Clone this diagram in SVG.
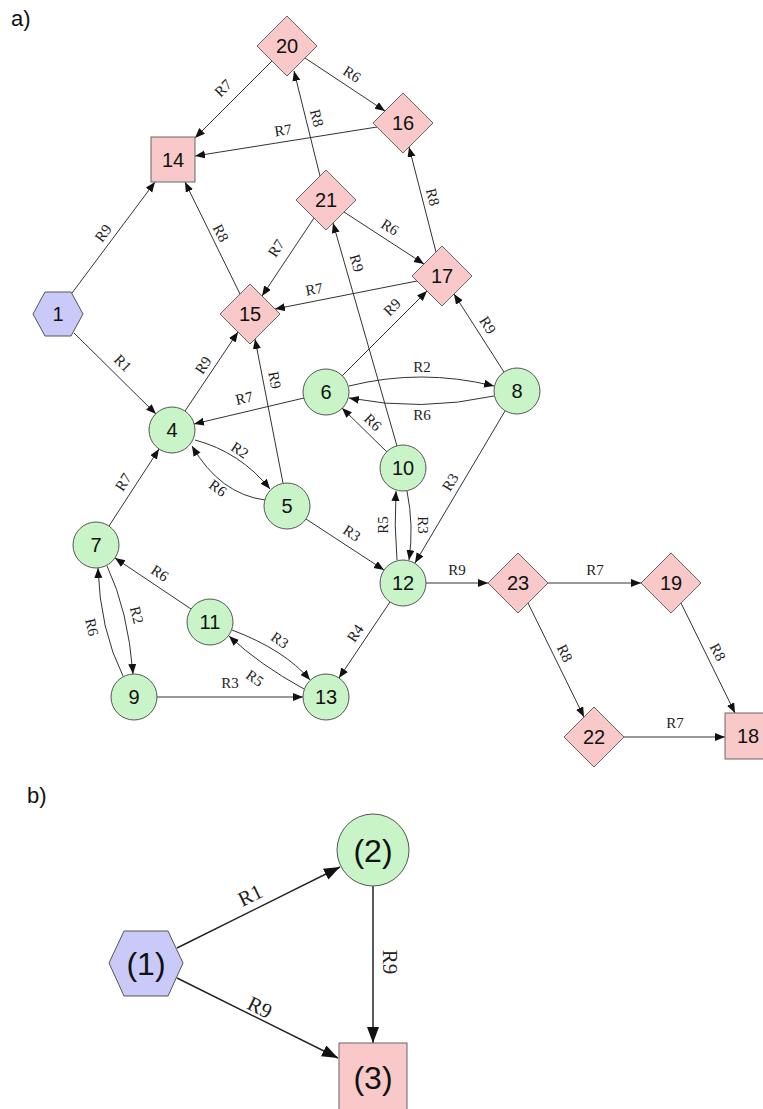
<svg xmlns="http://www.w3.org/2000/svg" width="763" height="1109" viewBox="0 0 763 1109">
<style>
.pink{fill:#F9C9C9;stroke:#666;stroke-width:1}
.green{fill:#C8F4C8;stroke:#555;stroke-width:1}
.blue{fill:#CACAF9;stroke:#555;stroke-width:1}
.nl{font-family:"Liberation Sans",Arial,sans-serif;font-size:20px;fill:#111;text-anchor:middle}
.nb{font-family:"Liberation Sans",Arial,sans-serif;font-size:32px;fill:#111;text-anchor:middle}
.e{fill:none;stroke:#333;stroke-width:1;marker-end:url(#ah)}
.eb{fill:none;stroke:#222;stroke-width:1.5;marker-end:url(#ahb)}
.el{font-family:"Liberation Serif","Times New Roman",serif;font-size:15px;fill:#222;text-anchor:middle}
.elb{font-family:"Liberation Serif","Times New Roman",serif;font-size:21px;fill:#222;text-anchor:middle}
.cap{font-family:"Liberation Sans",Arial,sans-serif;font-size:22px;fill:#111}
</style>
<defs>
<marker id="ah" markerUnits="userSpaceOnUse" markerWidth="11" markerHeight="9" refX="10" refY="4" orient="auto"><path d="M0,0 L10,4 L0,8 z" fill="#111"/></marker>
<marker id="ahb" markerUnits="userSpaceOnUse" markerWidth="17" markerHeight="13" refX="16" refY="6" orient="auto"><path d="M0,0 L16,6 L0,12 z" fill="#111"/></marker>
</defs>
<rect width="763" height="1109" fill="#fff"/>
<text class="cap" x="11" y="26">a)</text>
<text class="cap" x="27" y="803">b)</text>

<g id="connectors">
<line class="e" x1="272" y1="61" x2="195" y2="138"/>
<line class="e" x1="305" y1="58" x2="385" y2="111"/>
<line class="e" x1="377" y1="127" x2="195" y2="156"/>
<line class="e" x1="320" y1="176" x2="294" y2="71"/>
<line class="e" x1="72" y1="293" x2="155" y2="182"/>
<line class="e" x1="240" y1="294" x2="185" y2="182"/>
<line class="e" x1="314" y1="218" x2="262" y2="296"/>
<line class="e" x1="344" y1="212" x2="424" y2="264"/>
<line class="e" x1="436" y1="252" x2="409" y2="147"/>
<line class="e" x1="417" y1="281" x2="275" y2="309"/>
<line class="e" x1="397" y1="446" x2="333" y2="223"/>
<line class="e" x1="342" y1="376" x2="427" y2="291"/>
<line class="e" x1="504" y1="372" x2="454" y2="294"/>
<line class="e" x1="74" y1="333" x2="156" y2="414"/>
<line class="e" x1="185" y1="411" x2="238" y2="332"/>
<line class="e" x1="283" y1="483" x2="255" y2="339"/>
<line class="e" x1="304" y1="398" x2="194" y2="424"/>
<path class="e" d="M349,386 Q421,368 494,386"/>
<path class="e" d="M494,396 Q421,412 349,398"/>
<line class="e" x1="387" y1="452" x2="342" y2="408"/>
<path class="e" d="M195,440 Q240,452 270,489"/>
<path class="e" d="M265,500 Q220,494 192,446"/>
<line class="e" x1="505" y1="411" x2="415" y2="563"/>
<line class="e" x1="306" y1="519" x2="384" y2="570"/>
<path class="e" d="M397,560 Q394,526 396,491"/>
<path class="e" d="M407,491 Q414,526 409,560"/>
<line class="e" x1="109" y1="526" x2="159" y2="449"/>
<line class="e" x1="191" y1="609" x2="115" y2="558"/>
<path class="e" d="M107,566 Q128,610 133,674"/>
<path class="e" d="M123,676 Q100,630 98,568"/>
<path class="e" d="M232,630 Q285,650 310,680"/>
<path class="e" d="M304,689 Q260,665 229,636"/>
<line class="e" x1="157" y1="697" x2="303" y2="697"/>
<line class="e" x1="390" y1="602" x2="339" y2="678"/>
<line class="e" x1="426" y1="583" x2="488" y2="583"/>
<line class="e" x1="548" y1="583" x2="641" y2="583"/>
<line class="e" x1="528" y1="603" x2="584" y2="717"/>
<line class="e" x1="681" y1="603" x2="735" y2="713"/>
<line class="e" x1="624" y1="737" x2="725" y2="737"/>
<line class="eb" x1="177" y1="948" x2="340" y2="867"/>
<line class="eb" x1="177" y1="978" x2="338" y2="1058"/>
<line class="eb" x1="373" y1="886" x2="373" y2="1043"/>

<text class="el" dy="0.35em" transform="translate(223,88) rotate(-45)">R7</text>
<text class="el" dy="0.35em" transform="translate(352,74) rotate(33.6)">R6</text>
<text class="el" dy="0.35em" transform="translate(283,130) rotate(-9)">R7</text>
<text class="el" dy="0.35em" transform="translate(317,118) rotate(76)">R8</text>
<text class="el" dy="0.35em" transform="translate(103,233) rotate(-53)">R9</text>
<text class="el" dy="0.35em" transform="translate(221,233) rotate(63)">R8</text>
<text class="el" dy="0.35em" transform="translate(276,248) rotate(-56)">R7</text>
<text class="el" dy="0.35em" transform="translate(390,227) rotate(33)">R6</text>
<text class="el" dy="0.35em" transform="translate(433,197) rotate(76)">R8</text>
<text class="el" dy="0.35em" transform="translate(314,289) rotate(-11)">R7</text>
<text class="el" dy="0.35em" transform="translate(357,263) rotate(74)">R9</text>
<text class="el" dy="0.35em" transform="translate(392,307) rotate(-45)">R9</text>
<text class="el" dy="0.35em" transform="translate(488,325) rotate(57)">R9</text>
<text class="el" dy="0.35em" transform="translate(123,363) rotate(45)">R1</text>
<text class="el" dy="0.35em" transform="translate(203,365) rotate(-56)">R9</text>
<text class="el" dy="0.35em" transform="translate(275,380) rotate(79)">R9</text>
<text class="el" dy="0.35em" transform="translate(244,398) rotate(-13)">R7</text>
<text class="el" dy="0.35em" transform="translate(422,367)">R2</text>
<text class="el" dy="0.35em" transform="translate(422,415)">R6</text>
<text class="el" dy="0.35em" transform="translate(373,422) rotate(44)">R6</text>
<text class="el" dy="0.35em" transform="translate(240,450) rotate(34)">R2</text>
<text class="el" dy="0.35em" transform="translate(218,488) rotate(36)">R6</text>
<text class="el" dy="0.35em" transform="translate(450,482) rotate(-59)">R3</text>
<text class="el" dy="0.35em" transform="translate(352,533) rotate(34)">R3</text>
<text class="el" dy="0.35em" transform="translate(383,525) rotate(-90)">R5</text>
<text class="el" dy="0.35em" transform="translate(423,525) rotate(90)">R3</text>
<text class="el" dy="0.35em" transform="translate(123,482) rotate(-57)">R7</text>
<text class="el" dy="0.35em" transform="translate(160,573) rotate(34)">R6</text>
<text class="el" dy="0.35em" transform="translate(137,615) rotate(76)">R2</text>
<text class="el" dy="0.35em" transform="translate(92,627) rotate(77)">R6</text>
<text class="el" dy="0.35em" transform="translate(280,640) rotate(35)">R3</text>
<text class="el" dy="0.35em" transform="translate(255,678) rotate(35)">R5</text>
<text class="el" dy="0.35em" transform="translate(230,683)">R3</text>
<text class="el" dy="0.35em" transform="translate(355,633) rotate(-56)">R4</text>
<text class="el" dy="0.35em" transform="translate(457,570)">R9</text>
<text class="el" dy="0.35em" transform="translate(595,570)">R7</text>
<text class="el" dy="0.35em" transform="translate(565,653) rotate(64)">R8</text>
<text class="el" dy="0.35em" transform="translate(718,652) rotate(63)">R8</text>
<text class="el" dy="0.35em" transform="translate(675,723)">R7</text>
<text class="elb" dy="0.35em" transform="translate(250,895) rotate(-26)">R1</text>
<text class="elb" dy="0.35em" transform="translate(260,1007) rotate(26)">R9</text>
<text class="elb" dy="0.35em" transform="translate(390,962) rotate(90)">R9</text>
</g>

<g id="n20"><polygon class="pink" points="287,16 317,46 287,76 257,46"/><text class="nl" x="287" y="53">20</text></g>
<g id="n16"><polygon class="pink" points="403,93 433,123 403,153 373,123"/><text class="nl" x="403" y="130">16</text></g>
<g id="n14"><rect class="pink" x="151" y="137" width="44" height="45"/><text class="nl" x="173" y="167">14</text></g>
<g id="n21"><polygon class="pink" points="326,170 356,200 326,230 296,200"/><text class="nl" x="326" y="207">21</text></g>
<g id="n17"><polygon class="pink" points="442,246 472,276 442,306 412,276"/><text class="nl" x="442" y="283">17</text></g>
<g id="n15"><polygon class="pink" points="250,284 280,314 250,344 220,314"/><text class="nl" x="250" y="321">15</text></g>
<g id="n1"><polygon class="blue" points="33,314 45,292 71,292 83,314 71,336 45,336"/><text class="nl" x="58" y="321">1</text></g>
<g id="n4"><circle class="green" cx="172" cy="430" r="23"/><text class="nl" x="172" y="437">4</text></g>
<g id="n6"><circle class="green" cx="326" cy="392" r="23"/><text class="nl" x="326" y="399">6</text></g>
<g id="n8"><circle class="green" cx="517" cy="391" r="23"/><text class="nl" x="517" y="398">8</text></g>
<g id="n10"><circle class="green" cx="403" cy="468" r="23"/><text class="nl" x="403" y="475">10</text></g>
<g id="n5"><circle class="green" cx="287" cy="506" r="23"/><text class="nl" x="287" y="513">5</text></g>
<g id="n12"><circle class="green" cx="403" cy="583" r="23"/><text class="nl" x="403" y="590">12</text></g>
<g id="n7"><circle class="green" cx="96" cy="545" r="23"/><text class="nl" x="96" y="552">7</text></g>
<g id="n11"><circle class="green" cx="210" cy="622" r="23"/><text class="nl" x="210" y="629">11</text></g>
<g id="n9"><circle class="green" cx="134" cy="697" r="23"/><text class="nl" x="134" y="704">9</text></g>
<g id="n13"><circle class="green" cx="326" cy="697" r="23"/><text class="nl" x="326" y="704">13</text></g>
<g id="n23"><polygon class="pink" points="518,553 548,583 518,613 488,583"/><text class="nl" x="518" y="590">23</text></g>
<g id="n19"><polygon class="pink" points="671,553 701,583 671,613 641,583"/><text class="nl" x="671" y="590">19</text></g>
<g id="n22"><polygon class="pink" points="594,707 624,737 594,767 564,737"/><text class="nl" x="594" y="744">22</text></g>
<g id="n18"><rect class="pink" x="725" y="713" width="46" height="46"/><text class="nl" x="748" y="743">18</text></g>

<g id="b1"><polygon class="blue" points="109,963 124,931 168,931 183,963 168,996 124,996"/><text class="nb" x="146" y="975">(1)</text></g>
<g id="b2"><circle class="green" cx="373" cy="850" r="36"/><text class="nb" x="373" y="862">(2)</text></g>
<g id="b3"><rect class="pink" x="339" y="1043" width="68" height="68"/><text class="nb" x="373" y="1089">(3)</text></g>
</svg>
